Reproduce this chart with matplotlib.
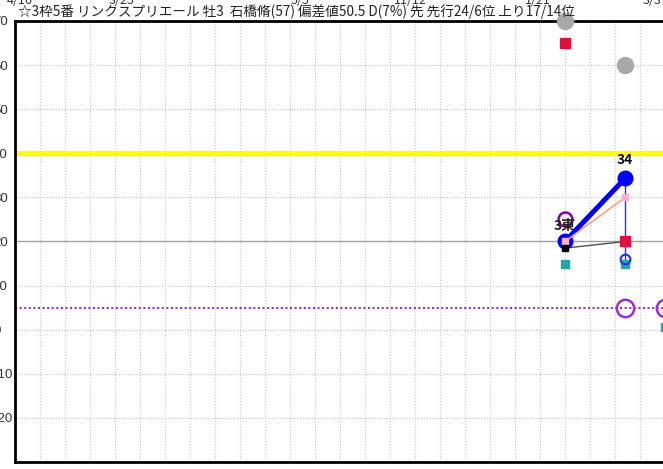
import matplotlib
matplotlib.use('Agg')
import matplotlib.pyplot as plt

plt.rcParams['font.family'] = ['Noto Sans CJK JP', 'DejaVu Sans']

# race positions on the x axis (grid units)
race_x = [22, 24.4, 26]

gray_vals = [70, 60]
red_vals = [65, 20]
blue_vals = [20, 34.3]
pink_vals = [20, 30]
black_vals = [18.5, 20]
blue_open_val = 16
teal_vals = [15, 15, 0.5]
purple_small_val = 25
purple_big_vals = [5, 5]

yellow_level = 40
purple_level = 5
solid_level = 20

title = '☆3枠5番 リンクスプリエール 牡3  石橋脩(57) 偏差値50.5 D(7%) 先 先行24/6位 上り17/14位'
race_label = '3東'
index_label = '34'
top_dates = ['4/16', '3/25', '5/5', '11/12', '1/21', '3/3']
top_date_px = [20, 122, 300, 410, 538, 652]
y_ticks = list(range(-20, 80, 10))

W, H = 663, 469
fig = plt.figure(figsize=(W / 100, H / 100), dpi=100)
ax = fig.add_axes([15 / W, 7 / H, 700 / W, 441 / H])
ax.set_xlim(0, 28)
ax.set_ylim(-30, 70)

# grid
for gx in range(1, 28):
    ax.axvline(gx, color='#cccccc', lw=0.9, ls=(0, (1, 1.3)), zorder=0)
for gy in range(-20, 70, 10):
    if gy == solid_level:
        ax.axhline(gy, color='#a0a0a0', lw=1.0, zorder=0)
    else:
        ax.axhline(gy, color='#c8c8c8', lw=0.9, ls=(0, (1, 1.3)), zorder=0)

ax.set_yticks(y_ticks)
ax.set_yticklabels([str(v) for v in y_ticks], fontfamily='Liberation Sans', fontsize=9.5,
                   color='#333333')
for lbl in ax.get_yticklabels():
    lbl.set_horizontalalignment('left')
ax.set_xticks([])
ax.tick_params(axis='y', length=0, pad=22 / 1.389)
for s in ['left', 'top', 'bottom']:
    ax.spines[s].set_linewidth(2)
ax.spines['right'].set_visible(False)

ax.axhline(yellow_level, color='#ffff00', lw=3.8, zorder=2)
ax.axhline(purple_level, color='#9a30d0', lw=1.5, ls=(0, (1, 1.2)), zorder=2)

x2 = race_x[:2]
ax.plot(x2, black_vals, color='#505050', lw=1.0, zorder=3)
ax.plot(race_x[0], black_vals[0], 's', color='black', ms=5, zorder=6)
ax.plot([race_x[1], race_x[1]], [blue_vals[1], blue_open_val], color='#2030ff', lw=1.0, zorder=3)
ax.plot(x2, blue_vals, color='#0000ff', lw=3.6, marker='o', ms=10.5, zorder=4)
ax.plot(x2, pink_vals, color='#ff9f80', lw=1.2, marker='s', ms=4.5,
        mfc='#ffb0c8', mec='#ffb0c8', zorder=5)
ax.plot(x2, red_vals, 's', color='#e0103c', ms=7, ls='none', zorder=5, clip_on=False)
ax.plot(x2, gray_vals, 'o', color='#a8a8a8', ms=11.5, ls='none', zorder=7, clip_on=False)
ax.plot(race_x[1], blue_open_val, 'o', mfc='none', mec='#2030ff', mew=1.5, ms=7, zorder=5)
ax.plot(race_x, teal_vals, 's', color='#20a8a8', ms=5.5, ls='none', zorder=4)
ax.plot(race_x[0], purple_small_val, 'o', mfc='none', mec='#8a00b0', mew=1.8, ms=10, zorder=4)
ax.plot(race_x[1:], purple_big_vals, 'o', mfc='none', mec='#9a30d0', mew=1.8, ms=12.5,
        ls='none', zorder=4, clip_on=False)

ax.text(race_x[0], purple_small_val - 1.5, race_label, ha='center', va='center',
        fontsize=10, fontweight='bold', color='#222222', zorder=6)
ax.text(race_x[1], blue_vals[1] + 2.6, index_label, ha='center', va='bottom',
        fontsize=10, fontweight='bold', color='#111111', zorder=6)

fig.text(18 / W, 1 - 12 / H, title, ha='left', va='center', fontsize=9.8, color='#222222')
for lab, px in zip(top_dates, top_date_px):
    fig.text(px / W, 1 - 4 / H, lab, ha='center', va='baseline', fontsize=9, color='#333333')

fig.savefig('out.png', dpi=100)
